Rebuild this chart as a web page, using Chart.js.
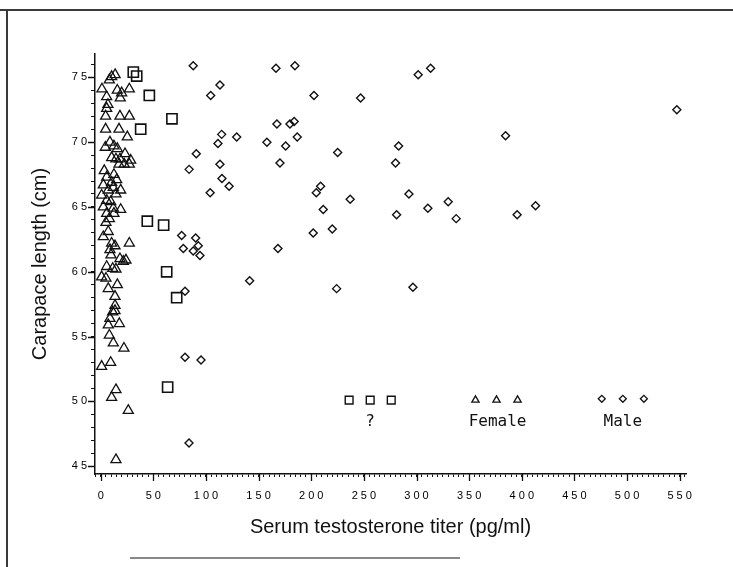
<!DOCTYPE html>
<html>
<head>
<meta charset="utf-8">
<script src="https://cdn.jsdelivr.net/npm/chart.js@4.4.1/dist/chart.umd.min.js"></script>
<style>
  html, body { margin: 0; padding: 0; background: #fff; }
  #wrap { position: relative; width: 733px; height: 567px; overflow: hidden; }
  #chart { position: absolute; left: 0; top: 0; }
  .edge { position: absolute; background: #3a3a3a; }
</style>
</head>
<body>
<div id="wrap">
  <canvas id="chart" width="733" height="567"></canvas>
  <div class="edge" style="left:0;top:9px;width:733px;height:2px"></div>
  <div class="edge" style="left:6px;top:9px;width:2px;height:558px"></div>
  <div class="edge" style="left:130px;top:557px;width:330px;height:2px;background:#888"></div>
</div>
<script>
'use strict';

// "?" - sex not determined (squares)
const unknownX = [31, 34.2, 46.2, 67.7, 38, 44.3, 59.8, 62.7, 72.2, 63.6];
const unknownY = [75.4, 75.1, 73.6, 71.8, 71.0, 63.9, 63.6, 60.0, 58.0, 51.1];

// Females (triangles)
const femaleX = [
  13.7, 10.4, 8.2, 1.2, 5.7, 15.8, 19.9, 27.2, 18.6, 6.9,
  5.7, 4.7, 18.3, 27.2, 4.7, 17.4, 25.3, 8.8, 4.4, 12.6,
  15.8, 10.4, 14.5, 18.3, 23.1, 28.5, 17.4, 22.4, 27.2, 3.4,
  5.7, 12.6, 10.4, 15.2, 2.5, 19.0, 7.2, 12.0, 0.9, 14.5,
  5.7, 9.5, 19.0, 2.5, 12.0, 5.7, 12.6, 5.0, 8.2, 7.2,
  2.5, 10.4, 13.6, 27.2, 8.8, 9.8, 18.3, 24.0, 21.5, 5.7,
  11.4, 14.5, 0.9, 5.0, 7.2, 15.8, 13.6, 13.6, 11.4, 13.6,
  8.8, 7.2, 17.7, 8.2, 12.0, 22.1, 0.9, 9.5, 14.5, 10.4,
  26.2, 14.5
];
const femaleY = [
  75.2, 75.05, 74.8, 74.1, 73.5, 74.0, 73.8, 74.1, 73.4, 72.9,
  72.6, 72.0, 72.0, 72.0, 71.0, 71.0, 70.4, 70.0, 69.6, 69.7,
  69.5, 68.8, 68.7, 68.7, 69.1, 68.6, 68.3, 68.3, 68.3, 67.8,
  67.3, 67.5, 66.9, 67.1, 66.7, 66.3, 66.3, 66.5, 65.9, 66.0,
  65.5, 65.4, 64.8, 65.0, 64.9, 64.5, 64.5, 63.8, 64.1, 63.1,
  62.7, 62.2, 62.0, 62.2, 61.7, 61.3, 61.0, 60.9, 60.8, 60.4,
  60.25, 60.2, 59.6, 59.5, 58.7, 59.0, 58.1, 57.4, 56.9, 57.0,
  56.4, 55.9, 56.0, 55.1, 54.5, 54.1, 52.7, 53.0, 50.9, 50.3,
  49.3, 45.5
];

// Males (diamonds)
const maleX = [
  87.9, 166.5, 184.5, 313.4, 301.6, 113.3, 104.5, 202.6, 246.9, 547.3,
  167.4, 179.8, 183.8, 114.9, 111.4, 129.2, 157.9, 186.7, 175.7, 283,
  384.6, 90.8, 225.1, 113.3, 170.3, 280.1, 84, 115.2, 122, 104,
  208.9, 204.8, 237, 292.8, 330.1, 413.1, 211.4, 310.8, 281.1, 395.6,
  337.7, 220, 201.9, 76.9, 90.2, 78.5, 92.7, 87.9, 94.3, 168.4,
  141.5, 80.1, 224.1, 296.6, 80.1, 95.3, 83.9
];
const maleY = [
  75.9, 75.7, 75.9, 75.7, 75.2, 74.4, 73.6, 73.6, 73.4, 72.5,
  71.4, 71.4, 71.6, 70.6, 69.9, 70.4, 70.0, 70.4, 69.7, 69.7,
  70.5, 69.1, 69.2, 68.3, 68.4, 68.4, 67.9, 67.2, 66.6, 66.1,
  66.6, 66.1, 65.6, 66.0, 65.4, 65.1, 64.8, 64.9, 64.4, 64.4,
  64.1, 63.3, 63.0, 62.8, 62.6, 61.8, 62.0, 61.6, 61.25, 61.8,
  59.3, 58.5, 58.7, 58.8, 53.4, 53.2, 46.8
];

// Key drawn inside the plot, as in the original figure
const keyUnknownX = [236, 256, 276];
const keyFemaleX = [356, 376, 396];
const keyMaleX = [476, 496, 516];
const keyMarkY = [50.1, 50.1, 50.2];
const keyLabels = ['?', 'Female', 'Male'];
const keyLabelX = [256, 377, 496];
const keyLabelY = 48.4;

// Axes
const X_MIN = -5.4, X_MAX = 556, X_STEP = 5, X_MAJOR = 50;
const Y_MIN = 44.4, Y_MAX = 76.8, Y_STEP = 1, Y_MAJOR = 5;

function toPoints(xs, ys) {
  return xs.map((x, i) => ({ x: x, y: ys[i] }));
}

function keyPoints(xs, y) {
  return xs.map(x => ({ x: x, y: y }));
}

function isMajor(v, step) {
  return Math.abs(v / step - Math.round(v / step)) < 1e-6;
}

// tick labels in the original are spaced out: "1 5 0"
function spaced(v) {
  return String(v).split('').join(' ');
}

function series(label, data, style, radius, width) {
  return {
    label: label,
    data: data,
    pointStyle: style,
    pointRadius: radius,
    pointHoverRadius: radius,
    borderColor: '#111',
    backgroundColor: 'rgba(0,0,0,0)',
    borderWidth: width,
    showLine: false
  };
}

const majorTicks = {
  id: 'majorTicks',
  afterDraw(chart) {
    const ctx = chart.ctx;
    const xs = chart.scales.x;
    const ys = chart.scales.y;
    ctx.save();
    ctx.strokeStyle = '#111';
    ctx.lineWidth = 1.3;
    ctx.beginPath();
    xs.ticks.forEach(t => {
      if (!isMajor(t.value, X_MAJOR)) return;
      const px = Math.round(xs.getPixelForValue(t.value)) + 0.5;
      ctx.moveTo(px, xs.top);
      ctx.lineTo(px, xs.top + 7);
    });
    ys.ticks.forEach(t => {
      if (!isMajor(t.value, Y_MAJOR)) return;
      const py = Math.round(ys.getPixelForValue(t.value)) + 0.5;
      ctx.moveTo(ys.right, py);
      ctx.lineTo(ys.right - 7, py);
    });
    ctx.stroke();

    // key labels
    ctx.fillStyle = '#111';
    ctx.font = '16px "DejaVu Sans Mono"';
    ctx.textAlign = 'center';
    ctx.textBaseline = 'middle';
    keyLabels.forEach((txt, i) => {
      ctx.fillText(txt, xs.getPixelForValue(keyLabelX[i]), ys.getPixelForValue(keyLabelY));
    });
    ctx.restore();
  }
};

const tickFont = { family: 'Liberation Sans', size: 11 };

new Chart(document.getElementById('chart'), {
  type: 'scatter',
  data: {
    datasets: [
      series('?', toPoints(unknownX, unknownY), 'rect', 7.2, 1.6),
      series('Female', toPoints(femaleX, femaleY), 'triangle', 5.8, 1.3),
      series('Male', toPoints(maleX, maleY), 'rectRot', 4, 1.4),
      series('key ?', keyPoints(keyUnknownX, keyMarkY[0]), 'rect', 5.5, 1.4),
      series('key Female', keyPoints(keyFemaleX, keyMarkY[1]), 'triangle', 4.2, 1.3),
      series('key Male', keyPoints(keyMaleX, keyMarkY[2]), 'rectRot', 3.5, 1.3)
    ]
  },
  options: {
    responsive: false,
    animation: false,
    events: [],
    layout: { padding: { left: 0, top: 54, right: 47, bottom: 0 } },
    plugins: {
      legend: { display: false },
      tooltip: { enabled: false }
    },
    scales: {
      x: {
        type: 'linear',
        min: X_MIN,
        max: X_MAX,
        afterFit: s => { s.height = 93; },
        border: { display: true, color: '#111', width: 1.5 },
        grid: { drawOnChartArea: false, tickLength: 3, tickColor: '#111', tickWidth: 1 },
        ticks: {
          stepSize: X_STEP,
          autoSkip: false,
          includeBounds: false,
          maxRotation: 0,
          padding: 12,
          color: '#000',
          font: tickFont,
          callback: v => isMajor(v, X_MAJOR) ? spaced(v) : ''
        },
        title: {
          display: true,
          text: 'Serum testosterone titer (pg/ml)',
          color: '#111',
          font: { family: 'Liberation Sans', size: 20 },
          padding: { top: 0, bottom: 28 }
        }
      },
      y: {
        type: 'linear',
        min: Y_MIN,
        max: Y_MAX,
        afterFit: s => { s.width = 95; },
        border: { display: true, color: '#111', width: 1.5 },
        grid: { drawOnChartArea: false, tickLength: 4, tickColor: '#111', tickWidth: 1 },
        ticks: {
          stepSize: Y_STEP,
          autoSkip: false,
          includeBounds: false,
          padding: 4,
          color: '#000',
          font: tickFont,
          callback: v => isMajor(v, Y_MAJOR) ? spaced(v) : ''
        },
        title: {
          display: true,
          text: 'Carapace length (cm)',
          color: '#111',
          font: { family: 'Liberation Sans', size: 20 },
          padding: { top: 28, bottom: 0 }
        }
      }
    }
  },
  plugins: [majorTicks]
});
</script>
</body>
</html>
